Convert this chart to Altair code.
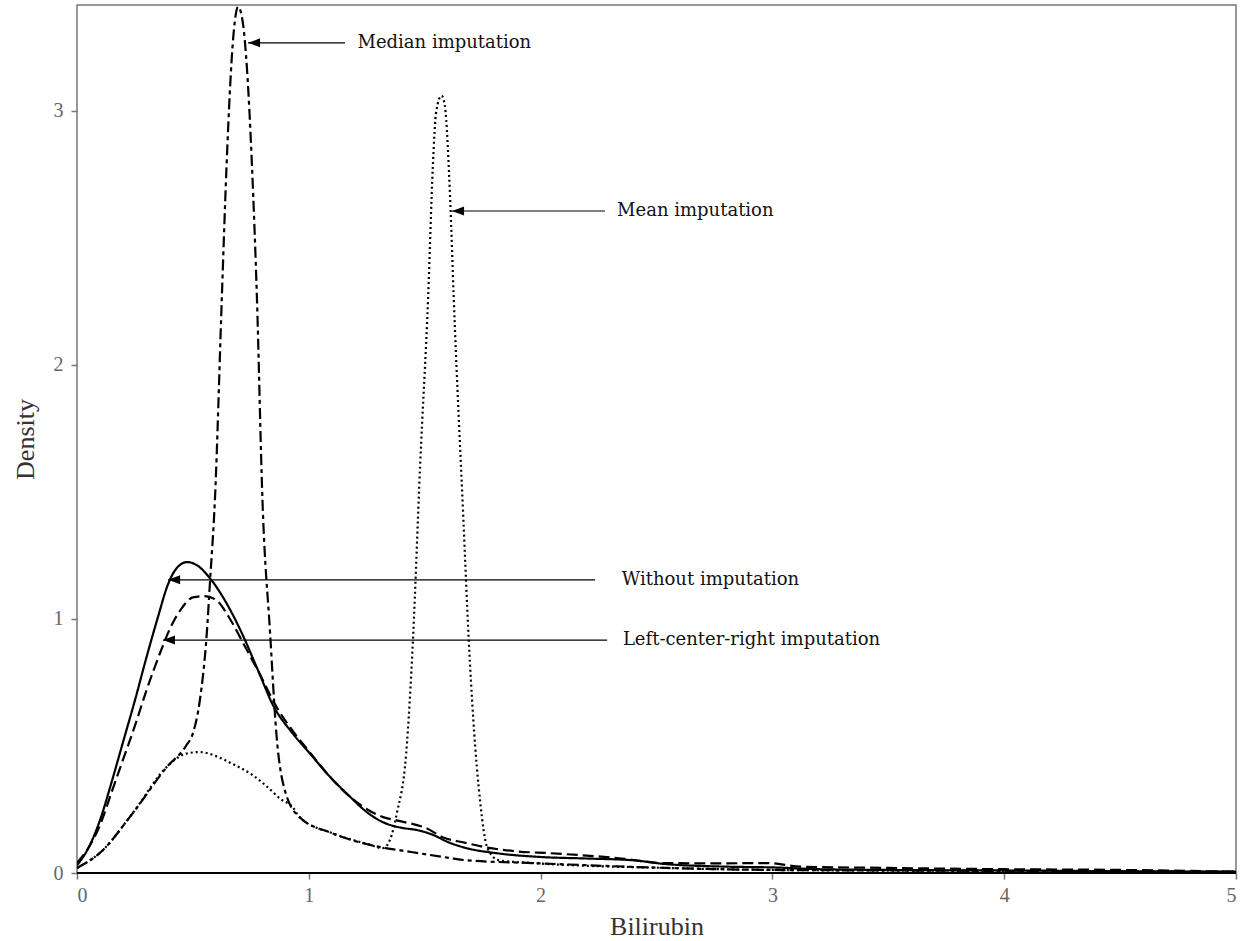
import altair as alt
import pandas as pd

# ---- data ----
wo_x = [0, 0.05, 0.1, 0.15, 0.2, 0.25, 0.3, 0.35, 0.39, 0.43, 0.475, 0.52, 0.574, 0.64, 0.703, 0.78, 0.846,
        0.93, 1.005, 1.09, 1.178, 1.25, 1.32, 1.4, 1.467, 1.536, 1.6, 1.68, 1.81, 2.0, 2.2, 2.4, 2.54,
        2.8, 3.0, 3.2, 3.5, 4.0, 4.5, 5.0]
wo_y = [0.03, 0.1, 0.21, 0.36, 0.52, 0.68, 0.85, 1.01, 1.13, 1.2, 1.224, 1.21, 1.16, 1.07, 0.96, 0.8, 0.66,
        0.55, 0.47, 0.38, 0.3, 0.24, 0.2, 0.178, 0.169, 0.15, 0.122, 0.098, 0.078, 0.063, 0.057, 0.05, 0.035,
        0.025, 0.022, 0.015, 0.012, 0.01, 0.007, 0.005]

lcr_x = [0, 0.05, 0.1, 0.15, 0.2, 0.25, 0.3, 0.36, 0.4, 0.45, 0.5, 0.55, 0.6, 0.66, 0.717, 0.79, 0.86, 0.93,
         1.0, 1.1, 1.178, 1.235, 1.32, 1.39, 1.51, 1.58, 1.67, 1.77, 1.9, 2.04, 2.33, 2.54, 2.75,
         2.98, 3.12, 3.5, 4.0, 4.5, 5.0]
lcr_y = [0.04, 0.1, 0.19, 0.32, 0.45, 0.58, 0.72, 0.87, 0.96, 1.04, 1.085, 1.09, 1.075, 1.0, 0.905, 0.78, 0.655, 0.56,
         0.48, 0.37, 0.3, 0.26, 0.22, 0.205, 0.175, 0.14, 0.12, 0.1, 0.085, 0.078, 0.059, 0.039, 0.038,
         0.039, 0.025, 0.02, 0.015, 0.012, 0.005]

med_x = [0, 0.1, 0.24, 0.39, 0.47, 0.5, 0.53, 0.56, 0.574, 0.595, 0.625, 0.645, 0.675, 0.695, 0.715,
         0.733, 0.755, 0.776, 0.8, 0.833, 0.86, 0.9, 0.96, 1.1, 1.32, 1.39, 1.61, 1.68, 1.97, 2.54,
         3.0, 3.5, 4.0, 5.0]
med_y = [0.02, 0.08, 0.235, 0.42, 0.5, 0.55, 0.68, 0.945, 1.15, 1.47, 2.27, 2.78, 3.3, 3.41, 3.35,
         3.17, 2.78, 2.27, 1.47, 0.945, 0.55, 0.315, 0.22, 0.157, 0.1, 0.09, 0.059, 0.05, 0.039, 0.02,
         0.012, 0.01, 0.008, 0.004]

mean_x = [0, 0.1, 0.24, 0.39, 0.47, 0.53, 0.6, 0.67, 0.75, 0.82, 0.88, 0.93, 0.96, 1.1, 1.25, 1.32,
          1.35, 1.38, 1.42, 1.45, 1.48, 1.515, 1.535, 1.55, 1.573, 1.587, 1.61, 1.625, 1.667, 1.69,
          1.71, 1.74, 1.77, 1.82, 1.97, 2.54, 3.0, 4.0, 5.0]
mean_y = [0.02, 0.08, 0.235, 0.42, 0.47, 0.476, 0.46, 0.43, 0.39, 0.34, 0.29, 0.26, 0.22, 0.157, 0.115, 0.098,
          0.13, 0.236, 0.47, 0.93, 1.6, 2.27, 2.78, 3.0, 3.06, 3.02, 2.65, 2.27, 1.39, 0.917,
          0.6, 0.275, 0.1, 0.05, 0.039, 0.02, 0.012, 0.008, 0.004]

series_names = ["Without imputation", "Left-center-right imputation", "Median imputation", "Mean imputation"]
series_x = [wo_x, lcr_x, med_x, mean_x]
series_y = [wo_y, lcr_y, med_y, mean_y]

ann_labels = ["Median imputation", "Mean imputation", "Without imputation", "Left-center-right imputation"]
ann_y = [3.268, 2.606, 1.154, 0.917]
ann_head_x = [0.738, 1.618, 0.393, 0.371]
ann_tail_x = [1.156, 2.278, 2.235, 2.287]
ann_text_x = [1.21, 2.33, 2.35, 2.355]

rows = []
for name, xs, ys in zip(series_names, series_x, series_y):
    for a, b in zip(xs, ys):
        rows.append({"series": name, "x": a, "y": b})
df = pd.DataFrame(rows)

ann = pd.DataFrame({"label": ann_labels, "y": ann_y, "hx": ann_head_x,
                    "tx": ann_tail_x, "textx": ann_text_x})

xscale = alt.Scale(domain=[0, 5], nice=False, zero=False)
yscale = alt.Scale(domain=[0, 3.417], nice=False)

xaxis = alt.Axis(title="Bilirubin", values=[0, 1, 2, 3, 4, 5], format="d", grid=False, domain=False,
                 tickColor="#777", tickSize=6, tickWidth=1.5, labelColor="#666", labelFont="Liberation Serif",
                 labelFontSize=20, labelPadding=6, titleFont="Liberation Serif", titleFontSize=26,
                 titleFontWeight="normal", titleColor="#333", titlePadding=8)
yaxis = alt.Axis(title="Density", values=[0, 1, 2, 3], format="d", grid=False, domain=False,
                 tickColor="#777", tickSize=6, tickWidth=1.5, labelColor="#666", labelFont="Liberation Serif",
                 labelFontSize=20, labelPadding=8, titleFont="Liberation Serif", titleFontSize=26,
                 titleFontWeight="normal", titleColor="#333", titlePadding=15)

lines = alt.Chart(df).mark_line(color="black", strokeWidth=2.2, interpolate="monotone", clip=True).encode(
    x=alt.X("x:Q", scale=xscale, axis=xaxis),
    y=alt.Y("y:Q", scale=yscale, axis=yaxis),
    detail="series:N",
    strokeDash=alt.StrokeDash("series:N", legend=None,
                              scale=alt.Scale(domain=series_names,
                                              range=[[1, 0], [11, 5], [11, 4, 4, 4], [2, 3]])),
)

base_rule = alt.Chart(pd.DataFrame({"y": [0]})).mark_rule(color="black", strokeWidth=2).encode(
    y=alt.Y("y:Q", scale=yscale), x=alt.value(0), x2=alt.value(1159))

arrow_lines = alt.Chart(ann).mark_rule(color="black", strokeWidth=1.2).encode(
    x=alt.X("hx:Q", scale=xscale), x2="tx:Q", y=alt.Y("y:Q", scale=yscale))

heads = alt.Chart(ann).mark_point(shape="M1,-0.75L-1,0L1,0.75Z", filled=True, color="black",
                                  opacity=1, size=144, xOffset=6).encode(
    x=alt.X("hx:Q", scale=xscale), y=alt.Y("y:Q", scale=yscale))

texts = alt.Chart(ann).mark_text(align="left", baseline="middle", font="DejaVu Serif", fontSize=18,
                                 color="#111").encode(
    x=alt.X("textx:Q", scale=xscale), y=alt.Y("y:Q", scale=yscale), text="label:N")

chart = alt.layer(lines, base_rule, arrow_lines, heads, texts).properties(
    width=1159, height=868,
    autosize=alt.AutoSizeParams(type="none"),
    padding={"left": 77, "top": 5, "right": 10, "bottom": 68},
    background="white",
).configure_view(stroke="#777", strokeWidth=1.5)

chart.save("out.html", embed_options={"renderer": "svg", "actions": False})
